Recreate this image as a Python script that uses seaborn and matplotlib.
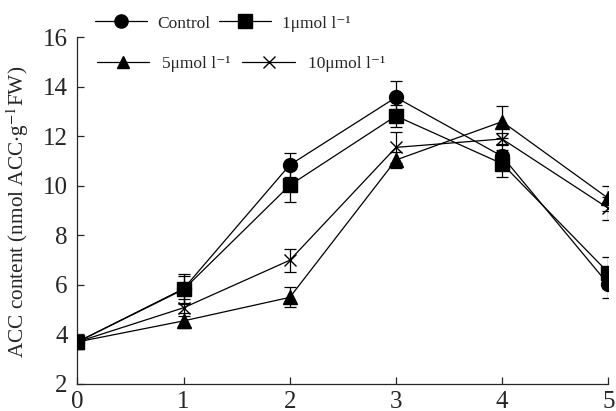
import pandas as pd
import numpy as np
import matplotlib
matplotlib.use('Agg')
import matplotlib.pyplot as plt
import seaborn as sns
from matplotlib.lines import Line2D

days = [0, 1, 2, 3, 4, 5]
groups = ['Control', '1μmol l⁻¹', '5μmol l⁻¹', '10μmol l⁻¹']
control = [3.7, 5.85, 10.85, 13.58, 11.2, 6.03]
control_err = [0, 0.6, 0.5, 0.66, 0.5, 0.55]
one_um = [3.7, 5.82, 10.03, 12.83, 10.9, 6.5]
one_um_err = [0, 0.55, 0.66, 0.45, 0.55, 0.62]
five_um = [3.7, 4.55, 5.5, 11.05, 12.6, 9.5]
five_um_err = [0, 0.3, 0.4, 0.34, 0.65, 0.5]
ten_um = [3.7, 5.08, 7.0, 11.56, 11.9, 9.1]
ten_um_err = [0, 0.35, 0.47, 0.64, 0.25, 0.47]

values = [control, one_um, five_um, ten_um]
errors = [control_err, one_um_err, five_um_err, ten_um_err]
markers = {groups[0]: 'o', groups[1]: 's', groups[2]: '^', groups[3]: 'x'}
sizes = {groups[0]: 10, groups[1]: 10, groups[2]: 9.5, groups[3]: 9}

df = pd.DataFrame({
    'day': days * 4,
    'acc': sum(values, []),
    'err': sum(errors, []),
    'group': np.repeat(groups, len(days)),
})

sns.set_style('ticks')
plt.rcParams['font.family'] = ['Liberation Serif', 'STIXGeneral', 'DejaVu Serif']
plt.rcParams['mathtext.fontset'] = 'stix'

fig = plt.figure(figsize=(6.16, 4.11), dpi=100)
ax = fig.add_axes([0.1257, 0.0657, 0.8618, 0.8431])

# draw order so the square ends up on top at day 0
order = [groups[3], groups[2], groups[0], groups[1]]
for g in order:
    sub = df[df['group'] == g]
    ax.errorbar(sub['day'], sub['acc'], yerr=sub['err'], fmt='none',
                ecolor='black', elinewidth=0.9, capsize=4.5, capthick=0.9, zorder=2)
    sns.lineplot(data=sub, x='day', y='acc', ax=ax, color='black', lw=0.9,
                 marker=markers[g], markersize=sizes[g], markeredgewidth=1.0,
                 markeredgecolor='black', markerfacecolor='black', zorder=3, legend=False)

ax.set_xlim(0, 5)
ax.set_ylim(2, 16)
ax.set_xticks(days)
ax.set_yticks(range(2, 17, 2))
ax.tick_params(direction='in', length=5, width=0.9, labelsize=18, pad=7)
ax.tick_params(axis='x', pad=5)
sns.despine(ax=ax)
for s in ['left', 'bottom']:
    ax.spines[s].set_linewidth(0.9)
ax.set_xlabel('')
ax.set_ylabel('ACC content (nmol ACC$\\cdot$g$^{-1}$FW)', fontsize=15.3)
ax.yaxis.set_label_coords(-0.087, 0.496)

def handle(g):
    return Line2D([], [], color='black', lw=0.9, marker=markers[g],
                  markersize=sizes[g] * 0.95, markerfacecolor='black')

leg_kw = dict(ncol=2, loc='center left', frameon=False, fontsize=12.5,
              borderpad=0, borderaxespad=0, handlelength=3.0)
fig.legend([handle(groups[0]), handle(groups[1])], groups[:2],
           bbox_to_anchor=(0.154, 0.943), handletextpad=0.6, columnspacing=0.5, **leg_kw)
fig.legend([handle(groups[2]), handle(groups[3])], groups[2:],
           bbox_to_anchor=(0.157, 0.845), handletextpad=0.75, columnspacing=0.7, **leg_kw)

fig.savefig('out.png', dpi=100)
